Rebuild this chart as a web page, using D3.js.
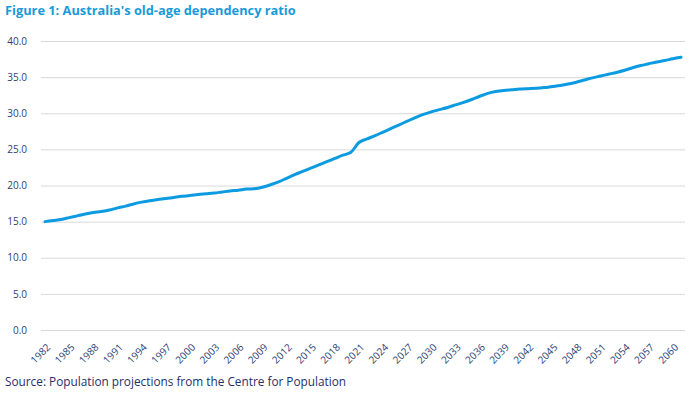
<!DOCTYPE html>
<html><head><meta charset="utf-8">
<script src="https://cdn.jsdelivr.net/npm/d3@7"></script>
<style>
html,body{margin:0;padding:0;background:#fff;}
svg{display:block;}
</style></head>
<body>
<svg id="chart" width="689" height="395"></svg>
<script>
const titleText = "Figure 1: Australia's old-age dependency ratio";
const sourceText = "Source: Population projections from the Centre for Population";
const years = d3.range(1982, 2062);
const ratio = [
  15.0, 15.15, 15.3, 15.55, 15.8, 16.05, 16.25, 16.4, 16.6, 16.9,
  17.15, 17.45, 17.7, 17.9, 18.05, 18.2, 18.35, 18.5, 18.6, 18.75,
  18.85, 18.95, 19.1, 19.25, 19.35, 19.5, 19.55, 19.75, 20.1, 20.5,
  21.0, 21.5, 21.95, 22.4, 22.85, 23.3, 23.75, 24.2, 24.6, 25.95,
  26.45, 26.9, 27.4, 27.9, 28.4, 28.9, 29.4, 29.85, 30.2, 30.5,
  30.8, 31.15, 31.5, 31.9, 32.35, 32.75, 33.0, 33.15, 33.25, 33.35,
  33.4, 33.45, 33.55, 33.7, 33.85, 34.05, 34.3, 34.6, 34.9, 35.15,
  35.4, 35.65, 35.95, 36.3, 36.6, 36.85, 37.1, 37.3, 37.55, 37.75
];
const yTicks = [0, 5, 10, 15, 20, 25, 30, 35, 40];
const xTickYears = d3.range(1982, 2062, 3);

const svg = d3.select("#chart");
const margin = {left: 41, right: 4, top: 41, bottom: 65};
const W = 689, H = 395;

const x = d3.scaleBand().domain(years).range([margin.left, W - margin.right]);
const y = d3.scaleLinear().domain([0, 40]).range([330, 41]);

// title
svg.append("text").attr("x", 5).attr("y", 15)
  .attr("font-family", "'Open Sans', sans-serif").attr("font-weight", "bold")
  .attr("font-size", 12.8).attr("fill", "#1a9ad9").text(titleText);

// grid
const yAxis = d3.axisLeft(y).tickValues(yTicks).tickFormat(d3.format(".1f"))
  .tickSize(-(W - margin.right - margin.left)).tickPadding(14);
const gy = svg.append("g").attr("transform", `translate(${margin.left},0)`).call(yAxis);
gy.select(".domain").remove();
gy.selectAll(".tick line").attr("stroke", "#d9d9d9").attr("stroke-width", 1);
gy.selectAll(".tick text").attr("font-family", "'Open Sans', sans-serif")
  .attr("font-size", 10).attr("fill", "#2c3e74");

// x axis
const xAxis = d3.axisBottom(x).tickValues(xTickYears).tickSize(0).tickPadding(0);
const gx = svg.append("g").attr("transform", `translate(0,330)`).call(xAxis);
gx.select(".domain").remove();
gx.selectAll(".tick text")
  .attr("font-family", "'Open Sans', sans-serif").attr("font-size", 10).attr("fill", "#2c3e74")
  .attr("text-anchor", "end").attr("dy", "0")
  .attr("transform", "translate(6,18) rotate(-45)");

// line
const line = d3.line()
  .x((d, i) => x(years[i]) + x.bandwidth() / 2)
  .y(d => y(d))
  .curve(d3.curveMonotoneX);
svg.append("path").datum(ratio).attr("d", line)
  .attr("fill", "none").attr("stroke", "#0c9ae0").attr("stroke-width", 3)
  .attr("stroke-linejoin", "round").attr("stroke-linecap", "round");

// source
svg.append("text").attr("x", 5).attr("y", 386)
  .attr("font-family", "'Open Sans', sans-serif").attr("font-size", 11.8)
  .attr("fill", "#1f2f6b").text(sourceText);
</script>
</body></html>
